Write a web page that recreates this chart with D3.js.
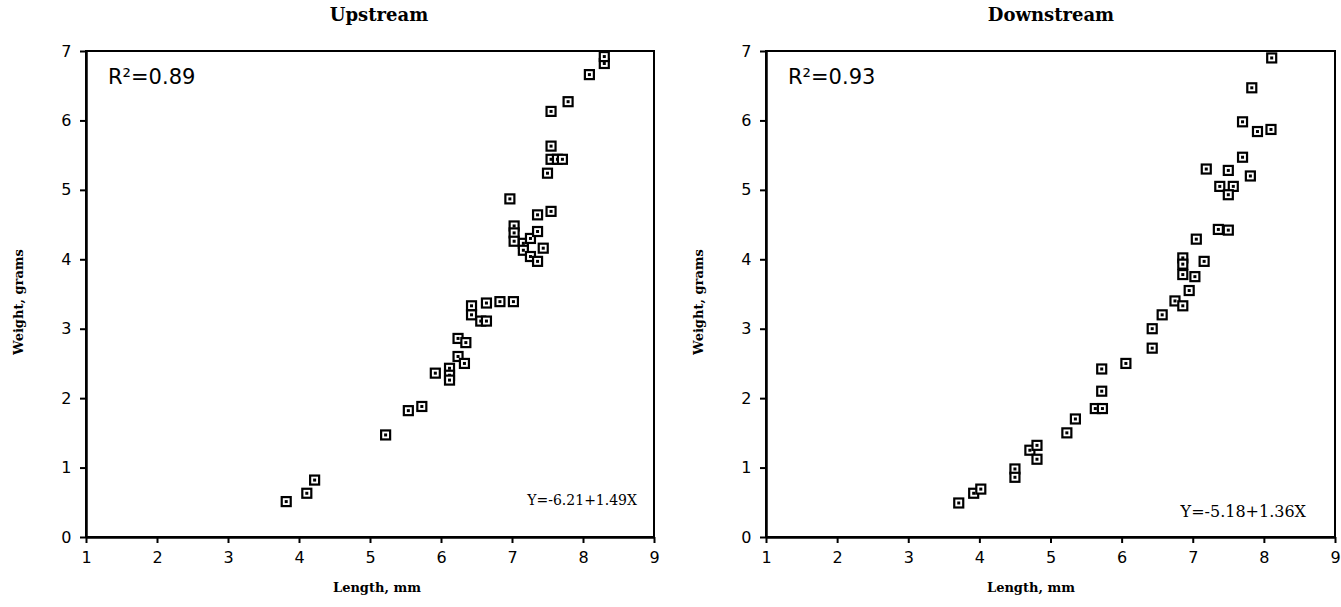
<!DOCTYPE html>
<html><head><meta charset="utf-8">
<script src="https://cdn.jsdelivr.net/npm/d3@7"></script>
<style>body{margin:0;background:#fff}svg{display:block}</style>
</head><body>
<svg id="c" width="1341" height="607"></svg>
<script>
const xTicks = [1,2,3,4,5,6,7,8,9];
const yTicks = [0,1,2,3,4,5,6,7];
const upX = [3.82,4.11,4.22,5.22,5.54,5.73,5.92,6.12,6.12,6.12,6.24,6.33,6.24,6.35,6.43,6.43,6.56,6.64,6.64,6.83,7.02,6.97,7.03,7.03,7.03,7.16,7.16,7.26,7.26,7.36,7.36,7.36,7.44,7.5,7.55,7.55,7.64,7.71,7.55,7.55,7.79,8.09,8.3,8.3];
const upY = [0.51,0.63,0.82,1.47,1.82,1.88,2.36,2.43,2.33,2.26,2.6,2.5,2.86,2.8,3.33,3.2,3.11,3.11,3.37,3.39,3.39,4.87,4.48,4.38,4.26,4.23,4.13,4.3,4.04,4.4,3.97,4.64,4.16,5.24,4.69,5.44,5.44,5.44,5.63,6.13,6.27,6.66,6.82,6.92];
const dnX = [3.71,3.92,4.02,4.5,4.5,4.71,4.81,4.81,5.23,5.35,5.63,5.73,5.72,5.72,6.06,6.43,6.43,6.57,6.75,6.86,6.86,6.95,7.03,6.86,6.86,7.05,7.16,7.36,7.5,7.38,7.57,7.5,7.19,7.5,7.81,7.7,7.7,7.91,8.1,7.83,8.11];
const dnY = [0.49,0.63,0.69,0.98,0.86,1.25,1.32,1.12,1.5,1.7,1.85,1.85,2.1,2.42,2.5,2.72,3.0,3.2,3.4,3.33,3.78,3.55,3.75,4.02,3.93,4.29,3.97,4.43,4.42,5.05,5.05,4.93,5.3,5.28,5.2,5.47,5.98,5.84,5.87,6.47,6.9];
const titles = ["Upstream","Downstream"];
const r2Labels = ["R\u00b2=0.89","R\u00b2=0.93"];
const eqLabels = ["Y=-6.21+1.49X","Y=-5.18+1.36X"];

const svg = d3.select("#c");
const serif = "'DejaVu Serif', serif";
const panels = [
  {x0:86, x1:654, xs:upX, ys:upY, eqX:637, eqY:505, eqS:14, tX:379, lX:377},
  {x0:766, x1:1335, xs:dnX, ys:dnY, eqX:1306, eqY:517, eqS:16, tX:1051, lX:1031}
];
panels.forEach((p,i)=>{
  const x = d3.scaleLinear().domain([1,9]).range([p.x0,p.x1]);
  const y = d3.scaleLinear().domain([0,7]).range([537,51]);
  const g = svg.append("g");
  g.append("rect").attr("x",p.x0).attr("y",51).attr("width",p.x1-p.x0).attr("height",537-51)
    .attr("fill","none").attr("stroke","#000").attr("stroke-width",2);
  const xa = g.append("g").attr("transform","translate(0,537)")
    .call(d3.axisBottom(x).tickValues(xTicks).tickFormat(d3.format("d")).tickSize(6).tickSizeOuter(0));
  const ya = g.append("g").attr("transform",`translate(${p.x0},0)`)
    .call(d3.axisLeft(y).tickValues(yTicks).tickFormat(d3.format("d")).tickSize(6).tickSizeOuter(0));
  [xa,ya].forEach(a=>{
    a.select(".domain").attr("stroke-width",2.5);
    a.selectAll(".tick line").attr("stroke-width",2);
    a.selectAll("text").attr("font-family","'DejaVu Sans', sans-serif").attr("font-size",16).attr("fill","#000");
  });
  xa.selectAll("text").attr("dy","1.05em");
  ya.selectAll("text").attr("dx","-0.35em");
  const pts = g.selectAll(".pt").data(p.xs.map((v,k)=>[v,p.ys[k]])).join("g")
    .attr("transform",d=>`translate(${x(d[0])},${y(d[1])})`);
  pts.append("rect").attr("x",-4.5).attr("y",-4.5).attr("width",9).attr("height",9)
    .attr("fill","#fff").attr("stroke","#000").attr("stroke-width",2.2);
  pts.append("rect").attr("x",-1.5).attr("y",-1.5).attr("width",3).attr("height",3).attr("fill","#000");
  svg.append("text").attr("x",p.tX).attr("y",21).attr("text-anchor","middle")
    .attr("font-family",serif).attr("font-weight","bold").attr("font-size",18).text(titles[i]);
  svg.append("text").attr("x",p.lX).attr("y",592).attr("text-anchor","middle")
    .attr("font-family",serif).attr("font-weight","bold").attr("font-size",13).text("Length, mm");
  svg.append("text").attr("transform",`translate(${p.x0-63},302) rotate(-90)`).attr("text-anchor","middle")
    .attr("font-family",serif).attr("font-weight","bold").attr("font-size",13).text("Weight, grams");
  svg.append("text").attr("x",p.x0+22).attr("y",84)
    .attr("font-family","'DejaVu Sans', sans-serif").attr("font-size",21).text(r2Labels[i]);
  svg.append("text").attr("x",p.eqX).attr("y",p.eqY).attr("text-anchor","end")
    .attr("font-family",serif).attr("font-size",p.eqS).text(eqLabels[i]);
});
</script>
</body></html>
